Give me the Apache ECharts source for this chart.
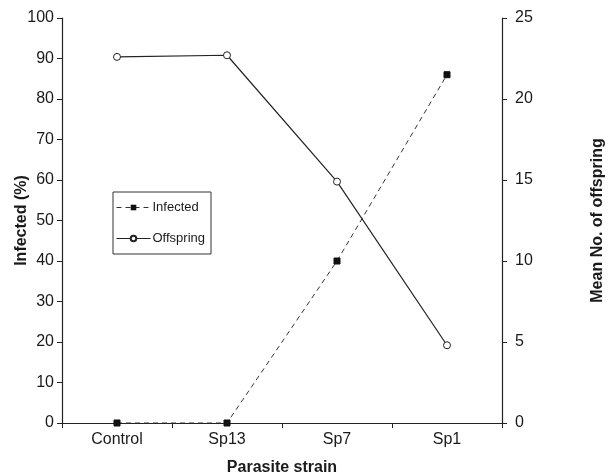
<!DOCTYPE html>
<html>
<head>
<meta charset="utf-8">
<script src="https://cdn.jsdelivr.net/npm/echarts@6/dist/echarts.min.js"></script>
<style>html,body{margin:0;padding:0;background:#fff;}#c{width:611px;height:473px;}</style>
</head>
<body>
<div id="c"></div>
<script>
var categories = ['Control', 'Sp13', 'Sp7', 'Sp1'];
var infected = [0, 0, 40, 86];
var offspring = [22.6, 22.7, 14.9, 4.8];
var leftTicks = {min: 0, max: 100, interval: 10};
var rightTicks = {min: 0, max: 25, interval: 5};

var font = 'Liberation Sans, Arial, sans-serif';
var chart = echarts.init(document.getElementById('c'), null, {renderer: 'canvas'});
var axisLine = {show: true, lineStyle: {color: '#222', width: 1.2}};
var axisTick = {show: true, length: 5, lineStyle: {color: '#222', width: 1}};
var labelStyle = {color: '#1a1a1a', fontSize: 16, fontFamily: font};
var nameStyle = {color: '#1a1a1a', fontSize: 16, fontWeight: 'bold', fontFamily: font};

chart.setOption({
  animation: false,
  backgroundColor: '#fff',
  grid: {left: 62, right: 109, top: 18, bottom: 50, containLabel: false, outerBoundsMode: 'none'},
  legend: {
    orient: 'vertical',
    left: 113, top: 192,
    width: 94,
    padding: [9, 6, 9, 3],
    borderColor: '#333', borderWidth: 1,
    itemWidth: 34, itemHeight: 7, itemGap: 18,
    lineStyle: {width: 1},
    textStyle: {color: '#1a1a1a', fontSize: 13, fontFamily: font, padding: [0, 0, 0, -3]},
    data: ['Infected', 'Offspring']
  },
  xAxis: {
    type: 'category',
    data: categories,
    boundaryGap: true,
    axisLine: axisLine,
    axisTick: {show: true, length: 5, interval: 0, lineStyle: {color: '#222'}},
    axisLabel: Object.assign({margin: 9}, labelStyle),
    name: 'Parasite strain', nameLocation: 'middle', nameGap: 37, nameMoveOverlap: false,
    nameTextStyle: nameStyle,
    splitLine: {show: false}
  },
  yAxis: [{
    type: 'value',
    min: leftTicks.min, max: leftTicks.max, interval: leftTicks.interval,
    axisLine: axisLine, axisTick: axisTick,
    axisLabel: Object.assign({margin: 8}, labelStyle),
    splitLine: {show: false},
    name: 'Infected (%)', nameLocation: 'middle', nameGap: 32, nameRotate: 90, nameMoveOverlap: false,
    nameTextStyle: nameStyle
  }, {
    type: 'value', position: 'right',
    min: rightTicks.min, max: rightTicks.max, interval: rightTicks.interval,
    axisLine: axisLine, axisTick: axisTick,
    axisLabel: Object.assign({margin: 13}, labelStyle),
    splitLine: {show: false},
    name: 'Mean No. of offspring', nameLocation: 'middle', nameGap: 88, nameRotate: 90, nameMoveOverlap: false,
    nameTextStyle: nameStyle
  }],
  series: [{
    name: 'Infected',
    type: 'line',
    data: infected,
    yAxisIndex: 0,
    symbol: 'rect', symbolSize: 6,
    itemStyle: {color: '#111', borderColor: '#111'},
    lineStyle: {color: '#333', width: 1, type: [5, 4]},
    z: 3
  }, {
    name: 'Offspring',
    type: 'line',
    data: offspring,
    yAxisIndex: 1,
    symbol: 'circle', symbolSize: 7,
    itemStyle: {color: '#fff', borderColor: '#222', borderWidth: 1},
    lineStyle: {color: '#222', width: 1.2, type: 'solid'},
    z: 4
  }]
});
</script>
</body>
</html>
